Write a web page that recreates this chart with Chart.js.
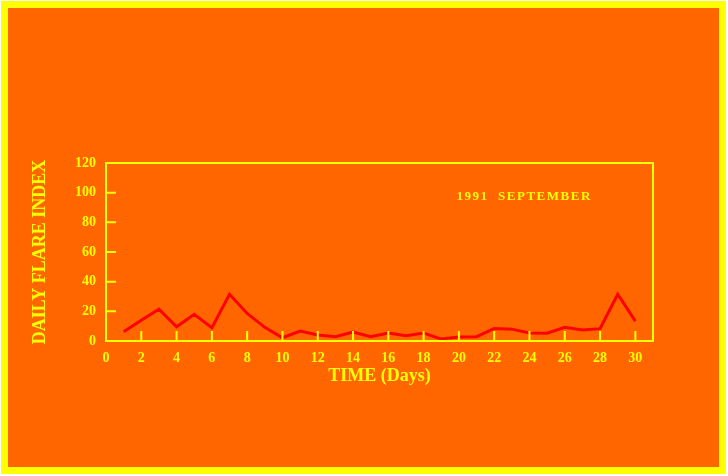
<!DOCTYPE html>
<html>
<head>
<meta charset="utf-8">
<script src="https://cdn.jsdelivr.net/npm/chart.js"></script>
<style>
  html, body { margin: 0; padding: 0; background: #ffffff; }
  #frame {
    position: absolute; left: 1px; top: 1px;
    width: 711px; height: 459px;
    border: 7px solid #ffff00;
    background: #ff6600;
  }
  #wrap { position: absolute; left: 0; top: 0; width: 728px; height: 476px; }
</style>
</head>
<body>
<div id="frame"></div>
<div id="wrap"><canvas id="flareChart"></canvas></div>
<script>
    // daily flare index, 1991 September
    var days = [1, 2, 3, 4, 5, 6, 7, 8, 9, 10, 11, 12, 13, 14, 15,
                16, 17, 18, 19, 20, 21, 22, 23, 24, 25, 26, 27, 28, 29, 30];
    var flareIndex = [6.2, 14, 21.5, 9.6, 18, 9, 31.5, 18.6, 9.2, 2.2,
                      6.7, 4, 2.9, 6, 2.9, 5.4, 3.6, 5.4, 1.3, 2.7,
                      2.9, 8.5, 8, 5.4, 5.2, 9.2, 7.4, 8.3, 31.5, 13.4];
    var xTicks = [0, 2, 4, 6, 8, 10, 12, 14, 16, 18, 20, 22, 24, 26, 28, 30];
    var yTicks = [0, 20, 40, 60, 80, 100, 120];
    var note = '1991  SEPTEMBER';

    var YELLOW = '#ffff00';
    var FONT = 'Liberation Serif';

    // box round the plot, inner tick marks, and the month label
    var frameAndTicks = {
        id: 'frameAndTicks',
        afterDraw: function (chart) {
            var ctx = chart.ctx, a = chart.chartArea;
            var xs = chart.scales.x, ys = chart.scales.y;
            ctx.save();
            ctx.strokeStyle = YELLOW;
            ctx.lineWidth = 2;
            ctx.strokeRect(a.left, a.top, a.right - a.left, a.bottom - a.top);
            ctx.beginPath();
            xTicks.forEach(function (v) {
                if (v === 0) return;
                var px = xs.getPixelForValue(v);
                ctx.moveTo(px, a.bottom);
                ctx.lineTo(px, a.bottom - 10);
            });
            yTicks.forEach(function (v) {
                if (v === 0 || v === 120) return;
                var py = ys.getPixelForValue(v);
                ctx.moveTo(a.left, py);
                ctx.lineTo(a.left + 10, py);
            });
            ctx.stroke();
            ctx.fillStyle = YELLOW;
            ctx.font = 'bold 13px "' + FONT + '"';
            ctx.letterSpacing = '1.5px';
            ctx.textAlign = 'center';
            ctx.textBaseline = 'middle';
            ctx.fillText(note, xs.getPixelForValue(23.7), ys.getPixelForValue(97.5));
            ctx.restore();
        }
    };

    var ctx = document.getElementById('flareChart').getContext('2d');
    var flareChart = new Chart(ctx, {
        type: 'line',
        data: {
            labels: days,
            datasets: [{
                label: 'Daily Flare Index',
                data: days.map(function (d, i) { return { x: d, y: flareIndex[i] }; }),
                borderColor: '#ff0000',
                borderWidth: 3,
                pointRadius: 0,
                fill: false,
                tension: 0
            }]
        },
        options: {
            responsive: true,
            maintainAspectRatio: false,
            animation: false,
            layout: { padding: { left: 30, top: 163, right: 75, bottom: 89 } },
            plugins: { legend: { display: false }, tooltip: { enabled: false } },
            scales: {
                x: {
                    type: 'linear', min: 0, max: 31,
                    afterBuildTicks: function (s) { s.ticks = xTicks.map(function (v) { return { value: v }; }); },
                    afterFit: function (s) { s.height = 46; },
                    grid: { display: false, drawTicks: false },
                    border: { display: false },
                    ticks: { color: YELLOW, padding: 9, maxRotation: 0, autoSkip: false,
                             font: { family: FONT, size: 14, weight: 'bold' } },
                    title: { display: true, text: 'TIME (Days)', color: YELLOW, padding: 0,
                             font: { family: FONT, size: 18, weight: 'bold' } }
                },
                y: {
                    min: 0, max: 120,
                    afterBuildTicks: function (s) { s.ticks = yTicks.map(function (v) { return { value: v }; }); },
                    afterFit: function (s) { s.width = 76; },
                    grid: { display: false, drawTicks: false },
                    border: { display: false },
                    ticks: { color: YELLOW, padding: 10,
                             font: { family: FONT, size: 14, weight: 'bold' } },
                    title: { display: true, text: 'DAILY FLARE INDEX', color: YELLOW, padding: 0,
                             font: { family: FONT, size: 18, weight: 'bold' } }
                }
            }
        },
        plugins: [frameAndTicks]
    });
</script>
</body>
</html>
